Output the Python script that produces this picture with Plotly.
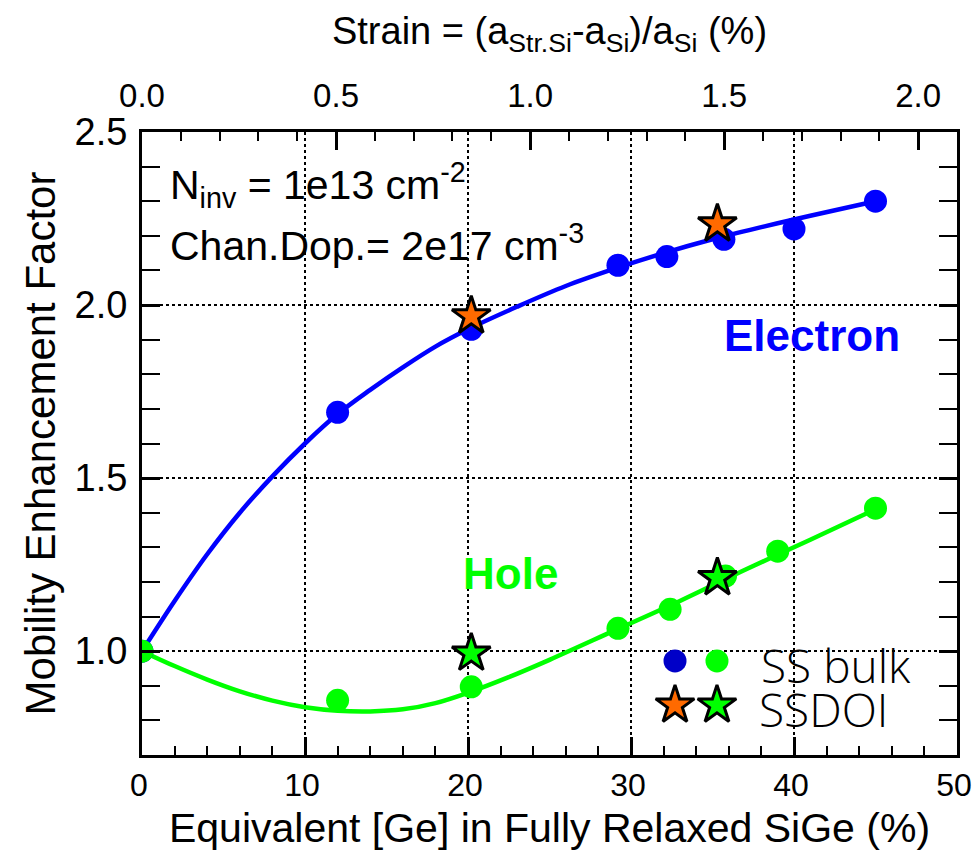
import plotly.graph_objects as go

# ---- data ----
ge_bulk_e = [0, 12.0, 20.2, 29.2, 32.2, 35.7, 40.0, 45.0]
mu_bulk_e = [1.0, 1.69, 1.93, 2.115, 2.14, 2.19, 2.22, 2.30]
ge_bulk_h = [0, 12.0, 20.2, 29.2, 32.4, 35.8, 39.0, 45.0]
mu_bulk_h = [1.0, 0.858, 0.897, 1.066, 1.121, 1.217, 1.289, 1.413]
ge_ssdoi = [20.2, 35.3]
mu_ssdoi_e = [1.968, 2.234]
mu_ssdoi_h = [0.994, 1.212]

fit_e_x = [0, 2, 4, 6, 8, 10, 12, 14, 16, 18, 20, 23, 26, 29, 32, 35, 38, 41, 45]
fit_e_y = [1.0, 1.145, 1.28, 1.40, 1.505, 1.60, 1.685, 1.755, 1.82, 1.88, 1.93, 1.995, 2.055, 2.105,
           2.15, 2.19, 2.225, 2.258, 2.30]
fit_h_x = [0, 2, 4, 6, 8, 10, 12, 14, 16, 18, 20, 22.5, 25, 29, 33, 37, 41, 45]
fit_h_y = [1.0, 0.957, 0.918, 0.884, 0.857, 0.838, 0.828, 0.826, 0.832, 0.85, 0.88, 0.925, 0.975,
           1.06, 1.145, 1.235, 1.322, 1.41]

x_ticks = [0, 10, 20, 30, 40, 50]
y_ticks = [1.0, 1.5, 2.0, 2.5]
strain_ticks = [0.0, 0.5, 1.0, 1.5, 2.0]

BLUE = "#0000ff"
GREEN = "#00ff00"
ORANGE = "#ff6a00"
SANS = "Liberation Sans, Arial, Helvetica, sans-serif"
LEGFONT = "Open Sans, DejaVu Sans, sans-serif"

fig = go.Figure()

fig.add_trace(go.Scatter(x=fit_e_x, y=fit_e_y, mode="lines", line=dict(color=BLUE, width=4.5, shape="spline"),
                         showlegend=False, hoverinfo="skip"))
fig.add_trace(go.Scatter(x=fit_h_x, y=fit_h_y, mode="lines", line=dict(color=GREEN, width=4.5, shape="spline"),
                         showlegend=False, hoverinfo="skip"))
fig.add_trace(go.Scatter(x=ge_bulk_e, y=mu_bulk_e, mode="markers",
                         marker=dict(color=BLUE, size=23, symbol="circle"), showlegend=False))
fig.add_trace(go.Scatter(x=ge_bulk_h, y=mu_bulk_h, mode="markers",
                         marker=dict(color=GREEN, size=23, symbol="circle"), showlegend=False))
fig.add_trace(go.Scatter(x=ge_ssdoi, y=mu_ssdoi_e, mode="markers",
                         marker=dict(color=ORANGE, size=29, symbol="star", line=dict(color="black", width=3)),
                         showlegend=False))
fig.add_trace(go.Scatter(x=ge_ssdoi, y=mu_ssdoi_h, mode="markers",
                         marker=dict(color=GREEN, size=29, symbol="star", line=dict(color="black", width=3)),
                         showlegend=False))
# top strain axis carrier
fig.add_trace(go.Scatter(x=[], y=[], xaxis="x2", yaxis="y", showlegend=False, hoverinfo="skip"))

# custom legend drawn on an overlay axis (0..1)
leg_x_col = [0.654, 0.7055]
leg_y_row = [0.151, 0.080]
fig.add_trace(go.Scatter(x=leg_x_col, y=[leg_y_row[0]] * 2, xaxis="x3", yaxis="y3", mode="markers",
                         marker=dict(color=["#0000c8", GREEN], size=23), showlegend=False, hoverinfo="skip"))
fig.add_trace(go.Scatter(x=leg_x_col, y=[leg_y_row[1]] * 2, xaxis="x3", yaxis="y3", mode="markers",
                         marker=dict(color=[ORANGE, GREEN], size=29, symbol="star", line=dict(color="black", width=3)),
                         showlegend=False, hoverinfo="skip"))

axis_common = dict(showline=True, linewidth=3, linecolor="black", ticks="inside", tickwidth=2.5,
                   tickcolor="black", ticklen=18, zeroline=False, automargin=False)

# page body has an 8px margin: figure is sized so that the plot frame lands where the reference has it
fig.update_layout(
    width=964, height=844,
    margin=dict(l=134, r=15, t=124, b=97),
    paper_bgcolor="white", plot_bgcolor="white",
    xaxis=dict(range=[0, 50], tickvals=x_ticks, showgrid=True, griddash="dot", gridcolor="black", gridwidth=2,
               minor=dict(dtick=2, ticks="inside", ticklen=9, tickwidth=2, tickcolor="black", showgrid=False),
               tickfont=dict(family=SANS, size=32, color="black"), ticklabelshift=-3,
               title=dict(text="Equivalent [Ge] in Fully Relaxed SiGe (%)",
                          font=dict(family=SANS, size=41, color="black"), standoff=11),
               **axis_common),
    xaxis2=dict(range=[0, 2.1], overlaying="x", side="top", tickvals=strain_ticks, tickformat=".1f",
                showgrid=False, ticklabelstandoff=9,
                minor=dict(dtick=0.1, ticks="inside", ticklen=9, tickwidth=2, tickcolor="black", showgrid=False),
                tickfont=dict(family=SANS, size=33, color="black"),
                title=dict(text="Strain = (a<sub>Str.Si</sub>-a<sub>Si</sub>)/a<sub>Si</sub> (%)",
                           font=dict(family=SANS, size=38, color="black"), standoff=21),
                **axis_common),
    yaxis=dict(range=[0.7, 2.5], tickvals=y_ticks, tickformat=".1f", showgrid=True, griddash="dot",
               gridcolor="black", gridwidth=2, mirror="allticks", ticklabelstandoff=4,
               minor=dict(dtick=0.1, ticks="inside", ticklen=9, tickwidth=2, tickcolor="black", showgrid=False),
               tickfont=dict(family=SANS, size=38, color="black"),
               title=dict(text="Mobility Enhancement Factor", font=dict(family=SANS, size=42, color="black"),
                          standoff=6),
               **axis_common),
    xaxis3=dict(range=[0, 1], overlaying="x", visible=False, fixedrange=True),
    yaxis3=dict(range=[0, 1], overlaying="y", visible=False, fixedrange=True),
    showlegend=False,
)

fig.add_annotation(x=1.6, y=2.347, xref="x", yref="y", xanchor="left", yanchor="middle", showarrow=False,
                   text="N<sub>inv</sub> = 1e13 cm<sup>-2</sup>", font=dict(family=SANS, size=41, color="black"))
fig.add_annotation(x=1.6, y=2.18, xref="x", yref="y", xanchor="left", yanchor="middle", showarrow=False,
                   text="Chan.Dop.= 2e17 cm<sup>-3</sup>", font=dict(family=SANS, size=41, color="black"))
fig.add_annotation(x=35.6, y=1.913, xref="x", yref="y", xanchor="left", yanchor="middle", showarrow=False,
                   text="<b>Electron</b>", font=dict(family=SANS, size=44, color=BLUE))
fig.add_annotation(x=19.6, y=1.225, xref="x", yref="y", xanchor="left", yanchor="middle", showarrow=False,
                   text="<b>Hole</b>", font=dict(family=SANS, size=44, color=GREEN))
fig.add_annotation(x=0.757, y=0.145, xref="paper", yref="paper", xanchor="left", yanchor="middle", showarrow=False,
                   text="SS bulk", font=dict(family=LEGFONT, size=46, color="black", weight=300))
fig.add_annotation(x=0.754, y=0.074, xref="paper", yref="paper", xanchor="left", yanchor="middle", showarrow=False,
                   text="SSDOI", font=dict(family=LEGFONT, size=46, color="black", weight=300))

fig.write_html("out.html")
